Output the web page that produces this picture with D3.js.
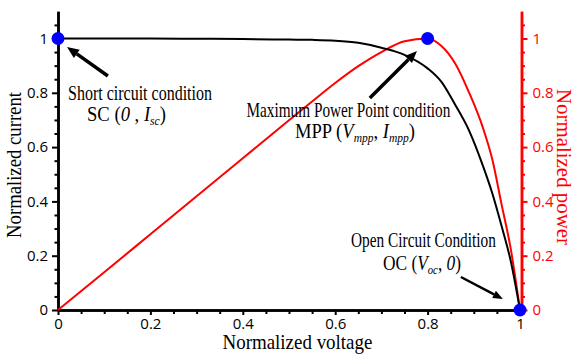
<!DOCTYPE html>
<html>
<head>
<meta charset="utf-8">
<script src="https://cdn.jsdelivr.net/npm/d3@7"></script>
<style>
  html, body { margin: 0; padding: 0; background: #fff; }
  svg { display: block; }
  .tick text { font-family: "Open Sans", "DejaVu Sans", sans-serif; }
</style>
</head>
<body>
<svg id="chart" width="574" height="356"></svg>
<script>
// Normalized I-V and P-V characteristics of a PV cell
const voltage = [0, 0.1, 0.2, 0.3, 0.4, 0.5, 0.55, 0.6, 0.65, 0.7, 0.75, 0.8, 0.83, 0.86, 0.89, 0.92, 0.94, 0.96, 0.98, 1.0];
const current = [1, 1, 1, 0.999, 0.998, 0.996, 0.995, 0.992, 0.984, 0.966, 0.94, 0.89, 0.84, 0.755, 0.66, 0.53, 0.43, 0.31, 0.18, 0];
const power   = [0, 0.139, 0.279, 0.419, 0.559, 0.699, 0.768, 0.836, 0.898, 0.95, 0.99, 1.0, 0.972, 0.907, 0.80, 0.67, 0.555, 0.39, 0.225, 0];

const majorTicks = [0, 0.2, 0.4, 0.6, 0.8, 1];
const minorTicks = [0.05, 0.1, 0.15, 0.25, 0.3, 0.35, 0.45, 0.5, 0.55, 0.65, 0.7, 0.75, 0.85, 0.9, 0.95, 1.05];

// Operating points: short circuit, maximum power point, open circuit
const pointV = [0, 0.8, 1];
const pointY = [1, 1, 0];

const svg = d3.select("#chart");
const RED = "#ff0000", BLUE = "#0000ff";
const serif = "'Liberation Serif', 'DejaVu Serif', serif";

const x = d3.scaleLinear().domain([0, 1]).range([58, 520]);
const yI = d3.scaleLinear().domain([0, 1.1]).range([310, 310 - 1.1 * 271.5]);
const yP = yI.copy();

// ---- axes ----
function styleAxis(g, color, width) {
  g.select(".domain").attr("stroke", color).attr("stroke-width", width);
  g.selectAll(".tick line").attr("stroke", color).attr("stroke-width", 2);
  g.selectAll(".tick text").attr("fill", color).attr("font-size", "15px");
}

// x axis
svg.append("g").attr("transform", "translate(0,310)")
  .call(d3.axisBottom(x).tickValues(minorTicks.filter(d => d < 1)).tickSize(4).tickFormat("").tickSizeOuter(0))
  .call(g => styleAxis(g, "#000", 2.5));
svg.append("g").attr("transform", "translate(0,310)")
  .call(d3.axisBottom(x).tickValues(majorTicks).tickSize(5).tickPadding(3).tickFormat(d3.format("~g")).tickSizeOuter(0))
  .call(g => styleAxis(g, "#000", 2.5));

// left axis (current)
svg.append("g").attr("transform", "translate(58,0)")
  .call(d3.axisLeft(yI).tickValues(minorTicks).tickSize(3.5).tickFormat("").tickSizeOuter(0))
  .call(g => styleAxis(g, "#000", 2.5));
svg.append("g").attr("transform", "translate(58,0)")
  .call(d3.axisLeft(yI).tickValues(majorTicks).tickSize(6).tickPadding(4).tickFormat(d3.format("~g")).tickSizeOuter(0))
  .call(g => styleAxis(g, "#000", 2.5));

// right axis (power)
const rx = x(1) + 1.5;
svg.append("g").attr("transform", `translate(${rx},0)`)
  .call(d3.axisRight(yP).tickValues(minorTicks).tickSize(3.5).tickFormat("").tickSizeOuter(0))
  .call(g => styleAxis(g, RED, 2.5));
svg.append("g").attr("transform", `translate(${rx},0)`)
  .call(d3.axisRight(yP).tickValues(majorTicks).tickSize(6).tickPadding(5).tickFormat(d3.format("~g")).tickSizeOuter(0))
  .call(g => styleAxis(g, RED, 2.5));

// ---- curves ----
const ivLine = d3.line().x((d, i) => x(voltage[i])).y(d => yI(d)).curve(d3.curveMonotoneX);
const pvLine = d3.line().x((d, i) => x(voltage[i])).y(d => yP(d)).curve(d3.curveMonotoneX);

svg.append("path").datum(power).attr("d", pvLine)
  .attr("fill", "none").attr("stroke", RED).attr("stroke-width", 2);
svg.append("path").datum(current).attr("d", ivLine)
  .attr("fill", "none").attr("stroke", "#000").attr("stroke-width", 2);

// ---- annotation arrows (data coordinates) ----
function arrow(x0, y0, x1, y1, w, head, headW) {
  const px0 = x(x0), py0 = yI(y0), px1 = x(x1), py1 = yI(y1);
  const ang = Math.atan2(py1 - py0, px1 - px0);
  const bx = px1 - head * Math.cos(ang), by = py1 - head * Math.sin(ang);
  svg.append("line").attr("x1", px0).attr("y1", py0).attr("x2", bx).attr("y2", by)
    .attr("stroke", "#000").attr("stroke-width", w);
  const nx = -Math.sin(ang) * headW / 2, ny = Math.cos(ang) * headW / 2;
  svg.append("path")
    .attr("d", `M${px1},${py1}L${bx + nx},${by + ny}L${bx - nx},${by - ny}Z`)
    .attr("fill", "#000");
}
arrow(0.108, 0.862, 0.0195, 0.969, 3.5, 12, 10);
arrow(0.675, 0.781, 0.777, 0.954, 3.5, 12, 10);
arrow(0.872, 0.1215, 0.963, 0.0405, 2.5, 10, 8);

// ---- operating point markers ----
svg.selectAll("circle.op").data(pointV).join("circle").attr("class", "op")
  .attr("cx", d => x(d)).attr("cy", (d, i) => yI(pointY[i]))
  .attr("r", 6.5).attr("fill", BLUE);

// ---- labels: a narrow serif, squeezed horizontally to a given width ----
function label(px, py, len, parts, size, opts = {}) {
  const g = svg.append("g");
  const t = g.append("text").attr("x", 0).attr("y", 0)
    .attr("font-family", serif).attr("font-size", size + "px")
    .attr("fill", opts.fill || "#000");
  if (opts.anchor) t.attr("text-anchor", opts.anchor);
  parts.forEach(p => {
    const s = t.append("tspan").text(p.t);
    if (p.i) s.attr("font-style", "italic");
    if (p.sub) s.attr("font-size", (size * 0.62) + "px").attr("dy", 4);
    if (p.up) s.attr("dy", -4);
  });
  const natural = t.node().getComputedTextLength() || len;
  const sx = len / natural;
  g.attr("transform", `translate(${px},${py}) rotate(${opts.rotate || 0}) scale(${sx},1)`);
  return g;
}

label(68, 100, 144, [{ t: "Short circuit condition" }], 20);
label(87, 121, 79, [{ t: "SC (" }, { t: "0", i: 1 }, { t: " , " }, { t: "I", i: 1 }, { t: "sc", i: 1, sub: 1 }, { t: ")", up: 1 }], 20);

label(246.5, 117, 204, [{ t: "Maximum Power Point condition" }], 20);
label(295, 138, 120, [{ t: "MPP (" }, { t: "V", i: 1 }, { t: "mpp", i: 1, sub: 1 }, { t: ", ", up: 1 }, { t: "I", i: 1 }, { t: "mpp", i: 1, sub: 1 }, { t: ")", up: 1 }], 20);

label(351, 247, 145, [{ t: "Open Circuit Condition" }], 20);
label(383, 270, 78, [{ t: "OC (" }, { t: "V", i: 1 }, { t: "oc", i: 1, sub: 1 }, { t: ", ", up: 1 }, { t: "0", i: 1 }, { t: ")" }], 20);

// ---- axis titles ----
label(222.5, 349, 150, [{ t: "Normalized voltage" }], 20);
label(21, 165, 146, [{ t: "Normalized current" }], 20, { anchor: "middle", rotate: -90 });
label(557, 167, 156, [{ t: "Normalized power" }], 20, { anchor: "middle", rotate: 90, fill: RED });
</script>
</body>
</html>
